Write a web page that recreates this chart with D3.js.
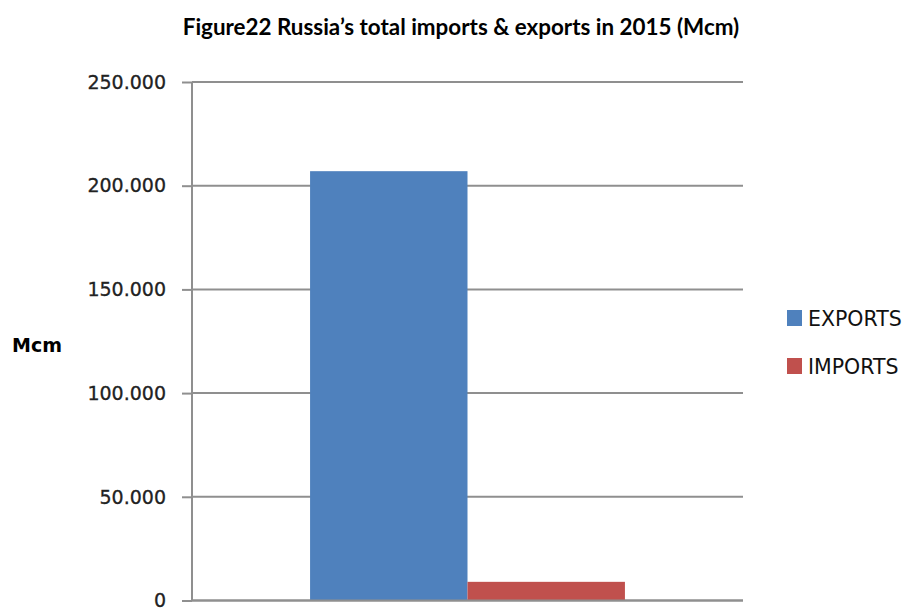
<!DOCTYPE html>
<html>
<head>
<meta charset="utf-8">
<script src="https://cdn.jsdelivr.net/npm/d3@7"></script>
<style>
  html, body { margin: 0; padding: 0; background: #fff; }
  svg { display: block; }
</style>
</head>
<body>
<svg id="chart" width="906" height="609"></svg>
<script>
// Russia's gas trade in 2015 (million cubic metres)
const categories = ["2015"];
const seriesNames = ["EXPORTS", "IMPORTS"];
const seriesValues = [207, 9];
const seriesColors = ["#4F81BD", "#C0504D"];
const yTicks = [0, 50, 100, 150, 200, 250];
const yTickLabels = ["0", "50.000", "100.000", "150.000", "200.000", "250.000"];
const titleText = "Figure22 Russia\u2019s total imports & exports in 2015 (Mcm)";
const yAxisTitle = "Mcm";

const svg = d3.select("#chart");
const plot = { left: 192, right: 743, top: 82, bottom: 600.5 };

const x0 = d3.scaleBand().domain(categories).range([plot.left, plot.right]).paddingInner(0).paddingOuter(0.375);
const x1 = d3.scaleBand().domain(seriesNames).range([0, x0.bandwidth()]);
const y = d3.scaleLinear().domain([0, 250]).range([plot.bottom, plot.top]);

// title
svg.append("text")
  .attr("x", 461).attr("y", 35)
  .attr("text-anchor", "middle")
  .style("font-family", "Lato, 'Open Sans', sans-serif")
  .style("font-weight", "bold")
  .style("font-size", "22.4px")
  .style("fill", "#000")
  .text(titleText);

// horizontal gridlines
svg.append("g").selectAll("line").data(yTicks).join("line")
  .attr("x1", plot.left).attr("x2", plot.right)
  .attr("y1", d => y(d)).attr("y2", d => y(d))
  .attr("stroke", "#8f8f8f").attr("stroke-width", 2);

// y axis with tick labels
const yAxis = d3.axisLeft(y)
  .tickValues(yTicks)
  .tickSize(10)
  .tickPadding(16)
  .tickFormat((d, i) => yTickLabels[i]);

const gy = svg.append("g")
  .attr("transform", `translate(${plot.left},0)`)
  .call(yAxis);
gy.select(".domain").attr("stroke", "#8f8f8f").attr("stroke-width", 2)
  .attr("d", `M0,${plot.top}V${plot.bottom}`);
gy.selectAll(".tick line").attr("stroke", "#8f8f8f").attr("stroke-width", 2);
gy.selectAll(".tick text")
  .style("font-family", "'DejaVu Sans', Verdana, sans-serif")
  .style("font-size", "19px")
  .style("fill", "#222")
  .style("stroke", "#222")
  .style("stroke-width", "0.3px")
  .attr("dy", "0.33em");

// bars
const groups = svg.append("g").selectAll("g").data(categories).join("g")
  .attr("transform", d => `translate(${x0(d)},0)`);
groups.selectAll("rect")
  .data(() => seriesNames.map((name, i) => ({ name, value: seriesValues[i], color: seriesColors[i] })))
  .join("rect")
  .attr("x", d => x1(d.name))
  .attr("width", x1.bandwidth())
  .attr("y", d => y(d.value))
  .attr("height", d => y(0) - y(d.value))
  .attr("fill", d => d.color);

// baseline redrawn over the bars
svg.append("line")
  .attr("x1", plot.left).attr("x2", plot.right)
  .attr("y1", y(0)).attr("y2", y(0))
  .attr("stroke", "#8f8f8f").attr("stroke-width", 2);

// y axis title
svg.append("text")
  .attr("x", 12).attr("y", 352)
  .style("font-family", "'DejaVu Sans', Verdana, sans-serif")
  .style("font-weight", "bold")
  .style("font-size", "19px")
  .style("fill", "#000")
  .text(yAxisTitle);

// legend
const legend = svg.append("g").selectAll("g").data(seriesNames).join("g")
  .attr("transform", (d, i) => `translate(787,${310 + i * 48})`);
legend.append("rect")
  .attr("width", 15).attr("height", 16)
  .attr("fill", (d, i) => seriesColors[i]);
legend.append("text")
  .attr("x", 21).attr("y", 16)
  .style("font-family", "'DejaVu Sans', Verdana, sans-serif")
  .style("font-size", "20.5px")
  .style("fill", "#111")
  .text(d => d);
</script>
</body>
</html>
